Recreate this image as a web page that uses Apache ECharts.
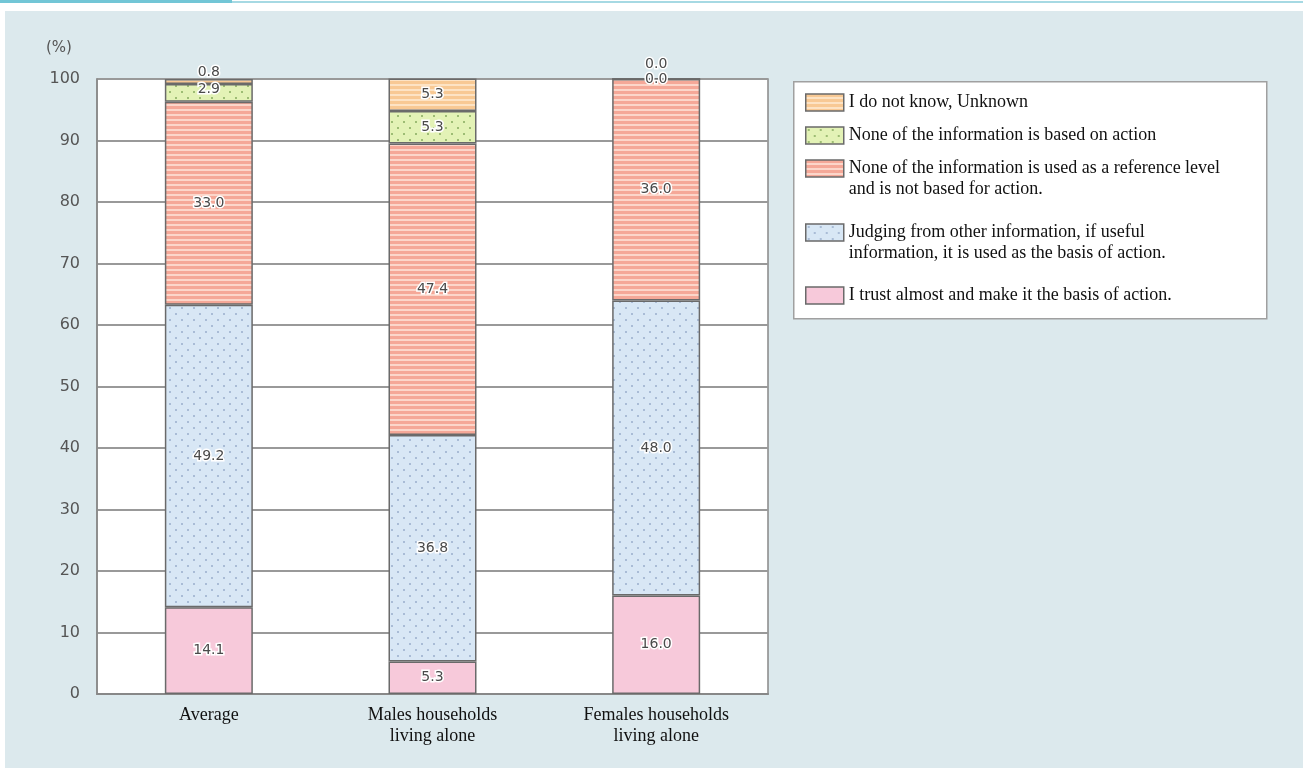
<!DOCTYPE html>
<html>
<head>
<meta charset="utf-8">
<script src="https://cdn.jsdelivr.net/npm/echarts@6/dist/echarts.min.js"></script>
<style>
  html, body { margin: 0; padding: 0; background: #fff; }
  #topline { position: absolute; left: 0; top: 1px; width: 1303px; height: 2px; background: #a6d9e3; }
  #topline2 { position: absolute; left: 0; top: 0; width: 232px; height: 3px; background: #72c6d6; }
  #chart { position: absolute; left: 5px; top: 11px; width: 1298px; height: 757px; }
</style>
</head>
<body>
<div id="topline"></div>
<div id="topline2"></div>
<div id="chart"></div>
<script>
// categories (x axis)
const categories = ['Average', 'Males households\nliving alone', 'Females households\nliving alone'];

// series names, bottom of stack first
const seriesNames = [
    'I trust almost and make it the basis of action.',
    'Judging from other information, if useful\ninformation, it is used as the basis of action.',
    'None of the information is used as a reference level\nand is not based for action.',
    'None of the information is based on action',
    'I do not know, Unknown'
];

// values (%) per series, one per category
const trustValues = [14.1, 5.3, 16.0];
const judgingValues = [49.2, 36.8, 48.0];
const notReferenceValues = [33.0, 47.4, 36.0];
const notBasedValues = [2.9, 5.3, 0.0];
const unknownValues = [0.8, 5.3, 0.0];

const yTicks = { min: 0, max: 100, interval: 10 };

// 模様（パターン）を作る
function makeStripes(c1, c2) {
    const cv = document.createElement('canvas');
    cv.width = 8; cv.height = 5;
    const ctx = cv.getContext('2d');
    ctx.fillStyle = c1; ctx.fillRect(0, 0, 8, 3);
    ctx.fillStyle = c2; ctx.fillRect(0, 3, 8, 2);
    return { image: cv, repeat: 'repeat' };
}
function makeDots(base, dot) {
    const cv = document.createElement('canvas');
    cv.width = 12; cv.height = 12;
    const ctx = cv.getContext('2d');
    ctx.fillStyle = base; ctx.fillRect(0, 0, 12, 12);
    ctx.fillStyle = dot;
    ctx.fillRect(2, 2, 2, 2);
    ctx.fillRect(8, 8, 2, 2);
    return { image: cv, repeat: 'repeat' };
}

const fills = [
    '#f7c9da',
    makeDots('#d8e7f5', '#a9bcd6'),
    makeStripes('#f5a898', '#fcd6ca'),
    makeDots('#e3f2b6', '#9dbc74'),
    makeStripes('#f8c994', '#fde3c4')
];

const allValues = [trustValues, judgingValues, notReferenceValues, notBasedValues, unknownValues];

// ラベル位置の個別調整
const labelOverrides = {
    '4-0': { position: 'top', distance: 0 },
    '3-0': { offset: [0, -3] },
    '4-2': { position: 'top', distance: 7 }
};

const chart = echarts.init(document.getElementById('chart'));

const series = allValues.map((vals, si) => ({
    name: seriesNames[si],
    type: 'bar',
    stack: 'total',
    barWidth: 88,
    data: vals.map((v, ci) => {
        const o = labelOverrides[si + '-' + ci];
        return o ? { value: v, label: o } : v;
    }),
    itemStyle: {
        color: fills[si],
        borderColor: '#6a6a6a',
        borderWidth: 1.5
    },
    label: {
        show: true,
        position: 'inside',
        formatter: p => p.value.toFixed(1),
        color: '#4a4a4a',
        fontSize: 14,
        fontFamily: 'DejaVu Sans',
        textBorderColor: '#fff',
        textBorderWidth: 3
    },
    emphasis: { disabled: true }
}));

// 凡例は項目ごとに配置（2行の項目はアイコンを1行目に合わせる）
const legendTops = [81, 114, 126, 190, 274];
const legends = seriesNames.slice().reverse().map((name, i) => ({
    data: [name],
    left: 800,
    top: legendTops[i],
    orient: 'vertical',
    icon: 'rect',
    itemWidth: 38,
    itemHeight: 17,
    selectedMode: false,
    padding: 0,
    formatter: n => n.indexOf('\n') >= 0 ? ' \n' + n : n,
    textStyle: {
        fontFamily: 'Liberation Serif',
        fontSize: 18,
        color: '#111',
        lineHeight: 21
    },
    itemStyle: { borderColor: '#6a6a6a', borderWidth: 1.5 }
}));

chart.setOption({
    backgroundColor: '#dce9ed',
    animation: false,
    grid: {
        left: 92,
        top: 68,
        right: 535,
        bottom: 74,
        show: true,
        backgroundColor: '#fff',
        borderColor: '#888',
        borderWidth: 1.5
    },
    graphic: [
        {
            type: 'rect',
            left: 788,
            top: 70,
            shape: { width: 473, height: 237 },
            style: { fill: '#fff', stroke: '#a0a0a0', lineWidth: 1.5 },
            z: -1
        },
        {
            type: 'text',
            left: 41,
            top: 30,
            style: { text: '(%)', fill: '#555', font: '15px DejaVu Sans' }
        }
    ],
    legend: legends,
    xAxis: {
        type: 'category',
        data: categories,
        axisTick: { show: false },
        axisLine: { lineStyle: { color: '#888', width: 2 } },
        axisLabel: {
            color: '#111',
            fontFamily: 'Liberation Serif',
            fontSize: 18,
            lineHeight: 21,
            margin: 11,
            interval: 0
        }
    },
    yAxis: {
        type: 'value',
        min: yTicks.min,
        max: yTicks.max,
        interval: yTicks.interval,
        axisLine: { show: true, lineStyle: { color: '#888', width: 1.5 } },
        axisTick: { show: false },
        axisLabel: {
            color: '#555',
            fontFamily: 'DejaVu Sans',
            fontSize: 16,
            margin: 17
        },
        splitLine: { lineStyle: { color: '#999', width: 2 } }
    },
    series: series
});
</script>
</body>
</html>
